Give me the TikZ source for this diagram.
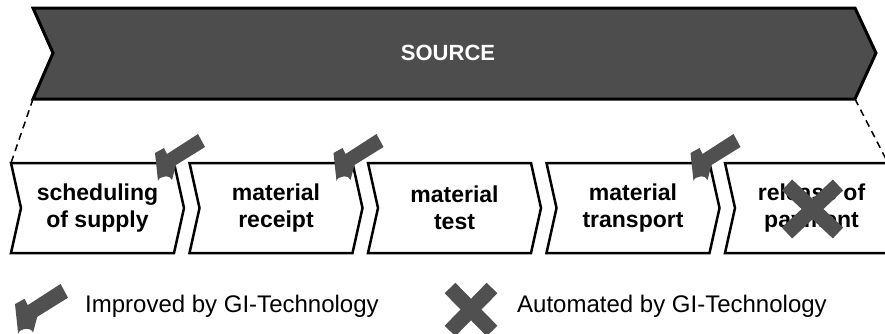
\documentclass[tikz,border=0pt]{standalone}
\usepackage{fontspec}
\setmainfont{Liberation Sans}
\definecolor{srcgray}{RGB}{77,77,77}
\definecolor{markgray}{RGB}{80,80,80}
\tikzset{
  chev/.style={fill=srcgray, draw=black, line width=3pt, line join=miter},
  stepbox/.style={fill=white, draw=black, line width=2.5pt, line join=miter},
  lbl/.style={font=\fontsize{23}{27}\selectfont\bfseries, align=center, inner sep=0pt},
  srclbl/.style={font=\fontsize{22}{26}\selectfont\bfseries, text=white, inner sep=0pt},
  legtxt/.style={font=\fontsize{24}{28}\selectfont, anchor=west, inner sep=0pt},
  markfill/.style={fill=markgray, draw=none},
  crossline/.style={draw=markgray, line width=15pt, line cap=butt},
  dashline/.style={draw=black, line width=1.5pt, dash pattern=on 7pt off 5pt}
}
\newcommand{\checkpath}{%
  (0,18) -- (9,13) -- (12,19) -- (43,-1) -- (50,12) -- (21,30)
    -- (17,45) to[out=100,in=80] (3,46) -- cycle}
\begin{document}
\begin{tikzpicture}[x=1pt,y=-1pt]
\useasboundingbox (0,0) rectangle (885,333);
\clip (0,0) rectangle (885,333);
% SOURCE chevron
\draw[chev] (33,8) -- (855,8) -- (876,53) -- (855,99) -- (33,99) -- (53,53) -- cycle;
\node[srclbl] (src) at (448,53) {SOURCE};
\coordinate (srcBL) at (33,99);
\coordinate (srcBR) at (855,99);
% step boxes
\foreach \i/\txt in {0/{scheduling\\of supply},1/{material\\receipt},2/{material\\test},3/{material\\transport},4/{release of\\payment}}{
  \pgfmathsetmacro{\xl}{11+178.5*\i}
  \draw[stepbox] (\xl,163) -- ++(163,0) -- ++(10,45) -- ++(-10,45) -- ++(-163,0) -- ++(10,-45) -- cycle;
  \node[lbl] (box\i) at (\xl+86.5,208) {\txt};
  \coordinate (boxTL\i) at (\xl,163);
  \coordinate (boxTR\i) at (\xl+163,163);
}
% dashed connectors
\draw[dashline] (srcBL) -- (boxTL0);
\draw[dashline] (srcBR) -- (boxTR4);
% check marks
\fill[markfill, shift={(155,135)}] \checkpath;
\fill[markfill, shift={(333.5,135)}] \checkpath;
\fill[markfill, shift={(690.5,135)}] \checkpath;
% cross on last box
\coordinate (xa) at (787,185);
\coordinate (xb) at (838,233);
\coordinate (xc) at (838,185);
\coordinate (xd) at (787,233);
\draw[crossline] (xa) -- (xb);
\draw[crossline] (xc) -- (xd);
% legend
\fill[markfill, shift={(15,285)}, scale=1.06] \checkpath;
\node[legtxt] (legA) at (85,306) {Improved by GI-Technology};
\coordinate (la) at (450,288);
\coordinate (lb) at (492,331);
\coordinate (lc) at (492,288);
\coordinate (ld) at (450,331);
\draw[crossline] (la) -- (lb);
\draw[crossline] (lc) -- (ld);
\node[legtxt] (legB) at (517,306) {Automated by GI-Technology};
\end{tikzpicture}
\end{document}
